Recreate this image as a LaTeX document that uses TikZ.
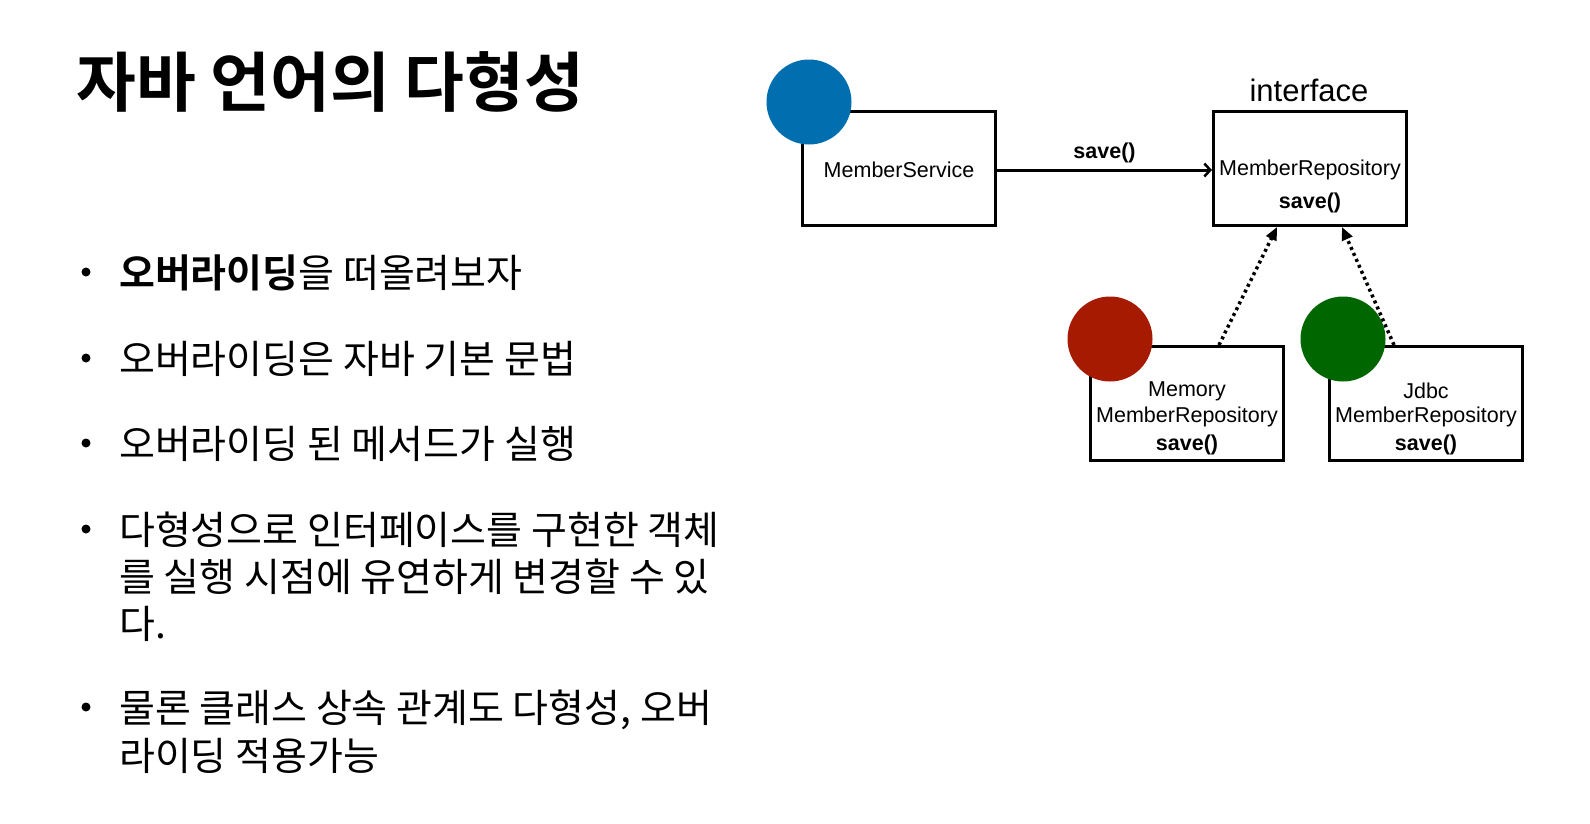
\documentclass[tikz,border=0pt]{standalone}
\usepackage{fontspec}
\setmainfont{Liberation Sans}
\newfontfamily\kr{Noto Sans CJK KR}[BoldFont={Noto Sans CJK KR Bold}]
\usetikzlibrary{arrows.meta}
\definecolor{cblue}{HTML}{006EAF}
\definecolor{cred}{HTML}{A51A00}
\definecolor{cgreen}{HTML}{006600}
\tikzset{
  title/.style={anchor=base west, inner sep=0pt, font=\kr\bfseries\fontsize{65}{70}\selectfont},
  body/.style={anchor=base west, inner sep=0pt, font=\kr\fontsize{39}{44}\selectfont},
  dotb/.style={circle, fill=black, inner sep=0pt, minimum size=9pt},
  cls/.style={draw, line width=3pt, minimum width=193pt, minimum height=114pt, inner sep=0pt},
  lab/.style={inner sep=0pt, font=\fontsize{21.5}{24}\selectfont},
  blab/.style={inner sep=0pt, font=\bfseries\fontsize{21.5}{24}\selectfont},
  obj/.style={circle, inner sep=0pt, minimum size=85pt},
  solidarrow/.style={line width=3pt, -{Straight Barb[length=6pt,width=13pt,line width=2.5pt]}},
  dotarrow/.style={line width=3.5pt, dash pattern=on 3pt off 3.5pt, -{Triangle[length=13pt,width=11pt]}},
}
\begin{document}
\begin{tikzpicture}[x=1pt, y=-1pt]
\useasboundingbox (0,0) rectangle (1590,823);
\fill[white] (0,0) rectangle (1590,823);

% title
\node[title] (t) at (76,106) {자바 언어의 다형성};

% bullets
\node[dotb] (b1) at (86,272) {};
\node[body] (l1) at (119,287) {\textbf{오버라이딩}을 떠올려보자};
\node[dotb] (b2) at (86,358) {};
\node[body] (l2) at (119,373) {오버라이딩은 자바 기본 문법};
\node[dotb] (b3) at (86,443) {};
\node[body] (l3) at (119,458) {오버라이딩 된 메서드가 실행};
\node[dotb] (b4) at (86,529) {};
\node[body] (l4a) at (119,544) {다형성으로 인터페이스를 구현한 객체};
\node[body] (l4b) at (119,591) {를 실행 시점에 유연하게 변경할 수 있};
\node[body] (l4c) at (119,638) {다.};
\node[dotb] (b5) at (86,707) {};
\node[body] (l5a) at (119,722) {물론 클래스 상속 관계도 다형성, 오버};
\node[body] (l5b) at (119,770) {라이딩 적용가능};

% diagram boxes
\node[cls] (svc) at (899,168.5) {};
\node[cls] (iface) at (1310,168.5) {};
\node[cls] (mem) at (1187,403.5) {};
\node[cls] (jdbc) at (1426,403.5) {};

% circles
\node[obj, fill=cblue] (csvc) at (809,102) {};
\node[obj, fill=cred] (cmem) at (1110,339) {};
\node[obj, fill=cgreen] (cjdbc) at (1343,339) {};

% labels
\node[lab] (svct) at (899,170) {MemberService};
\node[inner sep=0pt, font=\fontsize{31}{34}\selectfont] (ilab) at (1309,90) {interface};
\node[lab] (it1) at (1310,170) {MemberRepository};
\node[blab] (it2) at (1310,203) {save()};
\node[lab] (mt1) at (1187,391) {Memory};
\node[lab] (mt2) at (1187,417) {MemberRepository};
\node[blab] (mt3) at (1187,445) {save()};
\node[lab] (jt1) at (1426,391) {Jdbc};
\node[lab] (jt2) at (1426,417) {MemberRepository};
\node[blab] (jt3) at (1426,445) {save()};

% connectors
\draw[solidarrow] (svc.east |- svct) -- (iface.west |- svct)
  node[midway, above=6pt, blab] (sl) {save()};
\draw[dotarrow] ([xshift=130pt]mem.north west) -- ([xshift=65pt]iface.south west);
\draw[dotarrow] ([xshift=66pt]jdbc.north west) -- ([xshift=130pt]iface.south west);
\end{tikzpicture}
\end{document}
